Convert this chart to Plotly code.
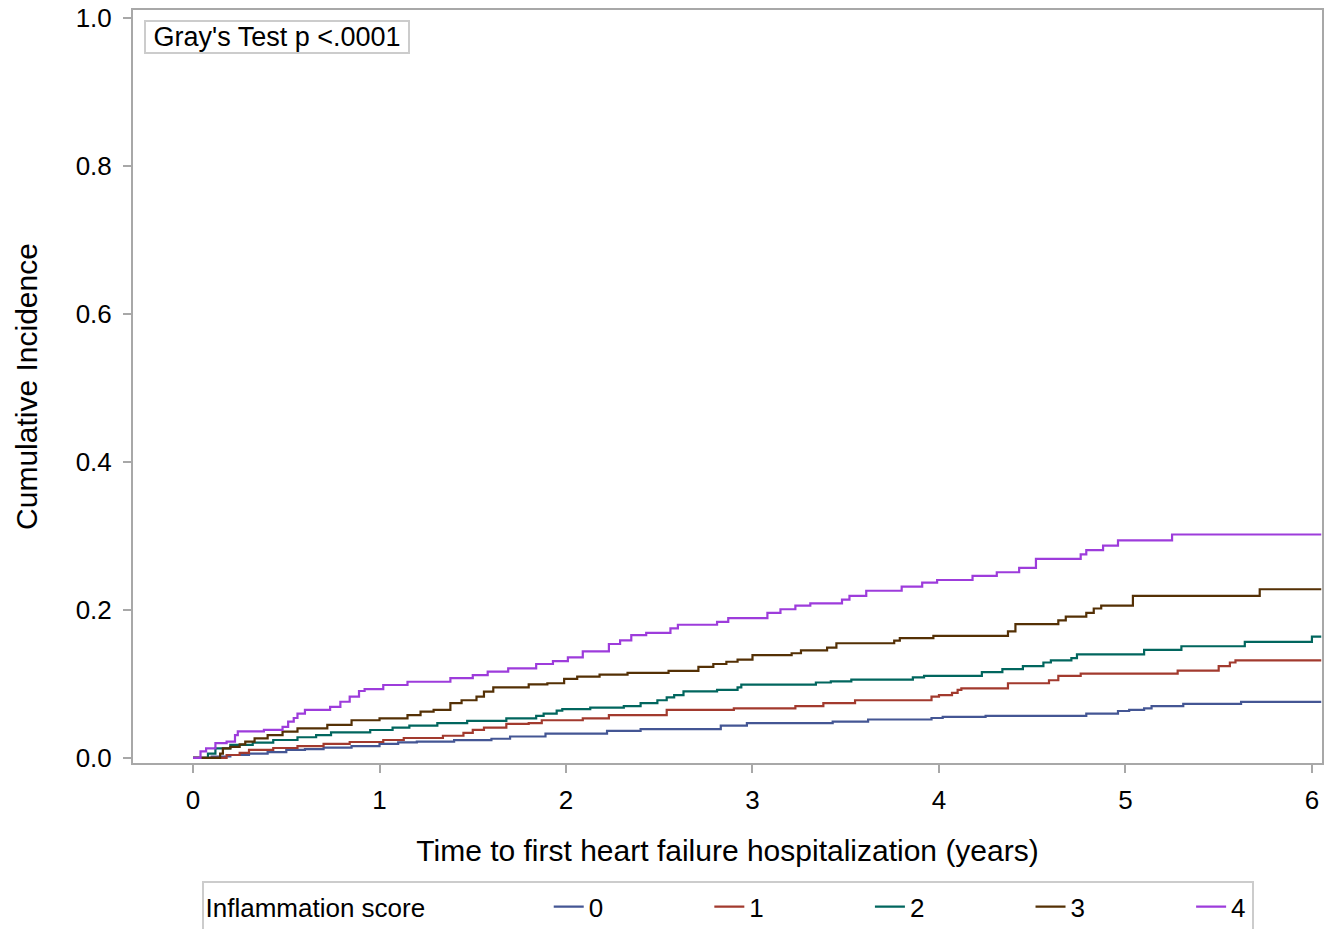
import plotly.graph_objects as go

# ---- data (time in years, cumulative incidence) ----
t0 = [0, 0.10, 0.20, 0.30, 0.40, 0.50, 0.60, 0.70, 0.85, 1.00, 1.10, 1.20, 1.40, 1.60, 1.70, 1.89, 2.22, 2.40, 2.83, 2.97, 3.43, 3.62, 3.96, 4.02, 4.25, 4.79, 4.96, 5.02, 5.10, 5.14, 5.31, 5.62, 6.05]
v0 = [0, 0.002, 0.004, 0.006, 0.008, 0.011, 0.012, 0.014, 0.016, 0.019, 0.021, 0.022, 0.024, 0.026, 0.029, 0.033, 0.0365, 0.039, 0.0437, 0.047, 0.049, 0.052, 0.054, 0.0554, 0.057, 0.060, 0.0635, 0.065, 0.067, 0.070, 0.073, 0.0757, 0.0757]

t1 = [0, 0.18, 0.25, 0.30, 0.43, 0.56, 0.70, 0.84, 1.02, 1.13, 1.34, 1.45, 1.50, 1.56, 1.68, 1.80, 1.87, 2.09, 2.23, 2.54, 2.90, 3.23, 3.38, 3.55, 3.96, 4.00, 4.07, 4.10, 4.12, 4.37, 4.59, 4.64, 4.76, 5.28, 5.50, 5.56, 5.59, 6.05]
v1 = [0, 0.004, 0.007, 0.011, 0.0135, 0.016, 0.019, 0.0216, 0.0243, 0.027, 0.030, 0.034, 0.038, 0.041, 0.046, 0.047, 0.051, 0.0536, 0.058, 0.065, 0.067, 0.070, 0.074, 0.078, 0.083, 0.085, 0.088, 0.092, 0.094, 0.101, 0.105, 0.111, 0.114, 0.118, 0.124, 0.129, 0.132, 0.132]

t2 = [0, 0.08, 0.12, 0.20, 0.32, 0.43, 0.56, 0.66, 0.74, 0.95, 1.07, 1.16, 1.31, 1.47, 1.68, 1.84, 1.88, 1.95, 1.98, 2.13, 2.31, 2.40, 2.49, 2.54, 2.58, 2.63, 2.81, 2.92, 2.94, 3.34, 3.42, 3.53, 3.86, 3.92, 4.23, 4.34, 4.45, 4.56, 4.60, 4.71, 4.74, 5.10, 5.30, 5.64, 6.00, 6.05]
v2 = [0, 0.006, 0.013, 0.0176, 0.0207, 0.0243, 0.028, 0.031, 0.0347, 0.0378, 0.041, 0.0437, 0.047, 0.050, 0.0536, 0.057, 0.060, 0.064, 0.066, 0.068, 0.070, 0.074, 0.078, 0.082, 0.085, 0.090, 0.092, 0.0955, 0.099, 0.102, 0.1036, 0.106, 0.109, 0.111, 0.116, 0.120, 0.124, 0.129, 0.132, 0.135, 0.140, 0.146, 0.151, 0.157, 0.164, 0.164]

t3 = [0, 0.145, 0.16, 0.20, 0.25, 0.28, 0.33, 0.40, 0.48, 0.56, 0.72, 0.85, 1.00, 1.15, 1.22, 1.29, 1.38, 1.44, 1.52, 1.56, 1.61, 1.80, 1.90, 1.99, 2.06, 2.18, 2.33, 2.55, 2.71, 2.79, 2.86, 2.92, 3.00, 3.21, 3.26, 3.40, 3.45, 3.76, 3.79, 3.97, 4.37, 4.41, 4.64, 4.68, 4.79, 4.83, 4.87, 5.04, 5.72, 6.05]
v3 = [0, 0.006, 0.013, 0.015, 0.0185, 0.022, 0.0266, 0.031, 0.0356, 0.040, 0.0446, 0.051, 0.0536, 0.058, 0.0626, 0.065, 0.074, 0.078, 0.083, 0.0896, 0.0955, 0.0995, 0.101, 0.107, 0.110, 0.1125, 0.115, 0.1176, 0.123, 0.127, 0.130, 0.133, 0.139, 0.1415, 0.1455, 0.149, 0.155, 0.1585, 0.162, 0.165, 0.171, 0.181, 0.186, 0.191, 0.196, 0.202, 0.206, 0.219, 0.228, 0.228]

t4 = [0, 0.04, 0.07, 0.12, 0.18, 0.225, 0.24, 0.38, 0.48, 0.51, 0.54, 0.56, 0.60, 0.735, 0.79, 0.84, 0.89, 0.92, 1.02, 1.15, 1.38, 1.50, 1.58, 1.69, 1.84, 1.93, 2.01, 2.09, 2.23, 2.29, 2.35, 2.43, 2.56, 2.60, 2.81, 2.87, 3.08, 3.15, 3.23, 3.31, 3.48, 3.52, 3.61, 3.80, 3.91, 3.99, 4.18, 4.31, 4.43, 4.52, 4.76, 4.79, 4.88, 4.96, 5.25, 6.05]
v4 = [0, 0.009, 0.013, 0.020, 0.022, 0.031, 0.036, 0.038, 0.042, 0.049, 0.054, 0.060, 0.065, 0.069, 0.076, 0.083, 0.0905, 0.093, 0.0986, 0.103, 0.108, 0.112, 0.1166, 0.121, 0.127, 0.131, 0.136, 0.144, 0.154, 0.159, 0.166, 0.169, 0.175, 0.180, 0.184, 0.189, 0.196, 0.201, 0.206, 0.209, 0.214, 0.219, 0.226, 0.2315, 0.237, 0.2405, 0.246, 0.251, 0.257, 0.269, 0.275, 0.281, 0.287, 0.294, 0.302, 0.302]

series_names = ["0", "1", "2", "3", "4"]
series_t = [t0, t1, t2, t3, t4]
series_v = [v0, v1, v2, v3, v4]
colors = ["#445694", "#A23A2E", "#01665E", "#543005", "#9D3CDB"]

x_ticks = [0, 1, 2, 3, 4, 5, 6]
y_ticks = [0.0, 0.2, 0.4, 0.6, 0.8, 1.0]

FONT = "Liberation Sans, Arial, sans-serif"
GRAY = "#A8A8A8"
NBSP = "\u00a0"

fig = go.Figure()
n = len(series_names)
for i, (name, t, v, c) in enumerate(zip(series_names, series_t, series_v, colors)):
    label = name + (NBSP * 14 if i < n - 1 else "")
    fig.add_trace(go.Scatter(x=t, y=v, mode="lines", name=label,
                             hovertemplate=f"score {name}<br>%{{x:.2f}} y<br>%{{y:.3f}}<extra></extra>",
                             line=dict(color=c, width=2.2, shape="hv")))

fig.update_layout(
    width=1325, height=929,
    margin=dict(l=133, r=3, t=10, b=166, autoexpand=False),
    paper_bgcolor="white", plot_bgcolor="white",
    font=dict(family=FONT, color="black", size=24),
    showlegend=True,
    legend=dict(
        orientation="h", x=0.5, xanchor="center", y=-0.157, yanchor="top",
        valign="middle",
        title=dict(text="Inflammation score" + NBSP * 16, font=dict(size=26), side="left"),
        font=dict(size=26), bordercolor="#CCCCCC", borderwidth=2,
        bgcolor="white",
    ),
    xaxis=dict(
        range=[-0.322, 6.054], tickvals=x_ticks, ticktext=[str(x) for x in x_ticks],
        showgrid=False, zeroline=False, showline=True, linecolor=GRAY, linewidth=2,
        mirror=True, ticks="outside", ticklen=8, tickcolor=GRAY, tickwidth=2,
        tickfont=dict(size=26), ticklabelstandoff=5,
        title=dict(text="Time to first heart failure hospitalization (years)",
                   font=dict(size=30), standoff=26),
    ),
    yaxis=dict(
        range=[-0.0068, 1.0108], tickvals=y_ticks, ticktext=[f"{y:.1f}" for y in y_ticks],
        showgrid=False, zeroline=False, showline=True, linecolor=GRAY, linewidth=2,
        mirror=True, ticks="outside", ticklen=8, tickcolor=GRAY, tickwidth=2,
        tickfont=dict(size=26), ticklabelstandoff=6,
        title=dict(text="Cumulative Incidence", font=dict(size=30), standoff=29),
    ),
    annotations=[dict(
        text=NBSP + "Gray's Test p <.0001" + NBSP, xref="paper", yref="paper",
        x=0.0093, y=0.9867, xanchor="left", yanchor="top", showarrow=False,
        font=dict(size=27, family=FONT), bordercolor="#CCCCCC", borderwidth=2,
        borderpad=0, bgcolor="white",
    )],
)

fig.write_html("out.html", config={"displayModeBar": False},
               post_script="document.body.style.margin='0';document.body.style.overflow='hidden';")
